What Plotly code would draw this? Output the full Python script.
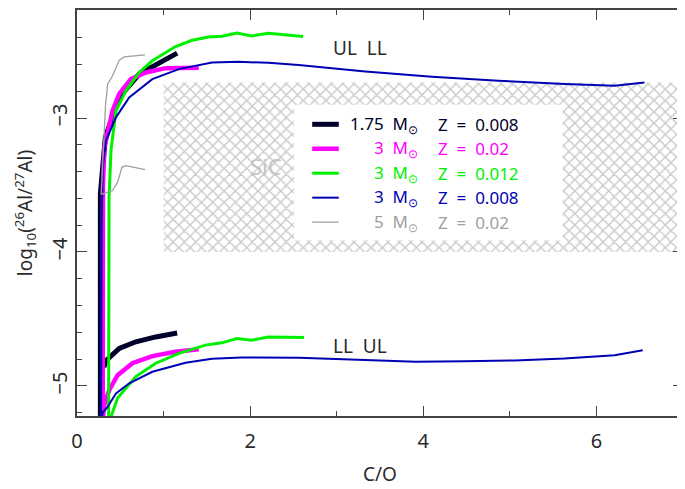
import plotly.graph_objects as go

# ---------------- data ----------------
black_up_x = [0.27, 0.27, 0.327, 0.488, 0.718, 0.947, 1.157]
black_up_y = [-5.3, -3.566, -3.144, -2.847, -2.672, -2.586, -2.516]
black_lo_x = [0.31, 0.335, 0.488, 0.68, 0.909, 1.157]
black_lo_y = [-4.86, -4.81, -4.72, -4.67, -4.634, -4.604]

mag_up_x = [0.297, 0.300, 0.316, 0.411, 0.488, 0.622, 0.794, 1.024, 1.406]
mag_up_y = [-5.3, -3.5, -3.22, -2.946, -2.82, -2.71, -2.66, -2.628, -2.625]
mag_lo_x = [0.297, 0.31, 0.373, 0.469, 0.64, 0.87, 1.139, 1.406]
mag_lo_y = [-5.3, -5.15, -5.03, -4.92, -4.83, -4.777, -4.745, -4.725]

grn_up_x = [0.365, 0.37, 0.393, 0.45, 0.565, 0.718, 0.87, 1.139, 1.33, 1.521,
            1.674, 1.846, 2.018, 2.21, 2.612]
grn_up_y = [-5.3, -3.6, -3.24, -2.946, -2.797, -2.66, -2.573, -2.467, -2.42, -2.395,
            -2.39, -2.366, -2.387, -2.367, -2.392]
grn_lo_x = [0.385, 0.393, 0.469, 0.68, 0.909, 1.177, 1.483, 1.674, 1.846, 2.018,
            2.21, 2.623]
grn_lo_y = [-5.3, -5.23, -5.09, -4.93, -4.83, -4.757, -4.695, -4.678, -4.646, -4.658,
            -4.634, -4.638]

blu_up_x = [0.278, 0.285, 0.297, 0.335, 0.45, 0.603, 0.87, 1.177, 1.559, 1.866,
            2.21, 2.56, 3.33, 4.10, 4.867, 5.634, 6.21, 6.555]
blu_up_y = [-5.3, -3.8, -3.368, -3.169, -2.995, -2.847, -2.71, -2.635, -2.586, -2.581,
            -2.588, -2.605, -2.653, -2.692, -2.722, -2.747, -2.76, -2.735]
blu_lo_x = [0.278, 0.297, 0.354, 0.45, 0.603, 0.87, 1.254, 1.559, 1.904, 2.21,
            2.56, 3.33, 3.91, 4.48, 5.06, 5.63, 6.21, 6.535]
blu_lo_y = [-5.3, -5.20, -5.155, -5.055, -4.98, -4.894, -4.827, -4.797, -4.787, -4.787,
            -4.79, -4.807, -4.82, -4.815, -4.81, -4.795, -4.77, -4.733]

gry_up_x = [0.28, 0.295, 0.308, 0.33, 0.354, 0.411, 0.488, 0.545, 0.786]
gry_up_y = [-3.57, -3.35, -3.12, -2.9, -2.747, -2.685, -2.568, -2.544, -2.529]
gry_lo_x = [0.28, 0.327, 0.411, 0.469, 0.519, 0.565, 0.786]
gry_lo_y = [-3.57, -3.561, -3.541, -3.479, -3.368, -3.355, -3.385]

sic_x_range = [1.0, 7.0]
sic_y_range = [-4.0, -2.735]

model_masses = ["1.75", "3", "3", "3", "5"]
model_Z = ["0.008", "0.02", "0.012", "0.008", "0.02"]
model_colors = ["#00002a", "#ff00ff", "#00f000", "#0000b4", "#a0a0a0"]
model_widths = [5, 4.5, 3, 2, 1.3]

x_tick_vals = [0, 2, 4, 6]
y_tick_vals = [-5, -4, -3]

curves = [
    (black_up_x, black_up_y, black_lo_x, black_lo_y),
    (mag_up_x, mag_up_y, mag_lo_x, mag_lo_y),
    (grn_up_x, grn_up_y, grn_lo_x, grn_lo_y),
    (blu_up_x, blu_up_y, blu_lo_x, blu_lo_y),
    (gry_up_x, gry_up_y, gry_lo_x, gry_lo_y),
]

FONT = "Noto Sans"
TXT = "#2a2a2a"
NB = "\u00a0"

fig = go.Figure()

# SiC hatched region
fig.add_trace(go.Scatter(
    x=[sic_x_range[0], sic_x_range[1], sic_x_range[1], sic_x_range[0], sic_x_range[0]],
    y=[sic_y_range[0], sic_y_range[0], sic_y_range[1], sic_y_range[1], sic_y_range[0]],
    mode="lines", fill="toself", line=dict(width=0, color="rgba(0,0,0,0)"),
    fillcolor="rgba(255,255,255,0)",
    fillpattern=dict(shape="x", fgcolor="#959595", bgcolor="white", size=8, solidity=0.33),
    hoverinfo="skip", showlegend=False))

for (ux, uy, lx, ly), col, w in zip(curves, model_colors, model_widths):
    for xs, ys in ((ux, uy), (lx, ly)):
        fig.add_trace(go.Scatter(x=xs, y=ys, mode="lines",
                                 line=dict(color=col, width=w),
                                 showlegend=False, hoverinfo="skip"))

# ---- legend box (white) ----
fig.add_shape(type="rect", xref="x", yref="y", x0=2.505, x1=5.61, y0=-3.914, y1=-2.901,
              fillcolor="white", line=dict(width=0), layer="above")

row_y0 = -3.047
row_step = 0.1825
for i, (m, z, col, w) in enumerate(zip(model_masses, model_Z, model_colors, model_widths)):
    yy = row_y0 - i * row_step
    fig.add_shape(type="line", xref="x", yref="y", x0=2.717, x1=3.024, y0=yy, y1=yy,
                  line=dict(color=col, width=w), layer="above")
    fig.add_annotation(x=3.96, y=yy, xref="x", yref="y", xanchor="right", yanchor="middle",
                       text=f"{m}{NB}{NB}M<sub>⊙</sub>", showarrow=False,
                       font=dict(family=FONT, size=17, color=col))
    fig.add_annotation(x=4.15, y=yy, xref="x", yref="y", xanchor="left", yanchor="middle",
                       text=f"Z{NB}{NB}={NB}{NB}{z}", showarrow=False,
                       font=dict(family=FONT, size=17, color=col))

# labels
fig.add_annotation(x=3.266, y=-2.48, xref="x", yref="y", text=f"UL{NB}{NB}LL", showarrow=False,
                   font=dict(family=FONT, size=19, color=TXT))
fig.add_annotation(x=3.266, y=-4.70, xref="x", yref="y", text=f"LL{NB}{NB}UL", showarrow=False,
                   font=dict(family=FONT, size=19, color=TXT))
fig.add_annotation(x=2.18, y=-3.355, xref="x", yref="y", text="SiC", showarrow=False,
                   font=dict(family=FONT, size=22, color="#c4c4c4"))

# axis titles
fig.add_annotation(x=0.5, y=-0.142, xref="paper", yref="paper", text="C/O", showarrow=False,
                   yanchor="middle", font=dict(family=FONT, size=19, color=TXT))
fig.add_annotation(x=-0.0855, y=0.5, xref="paper", yref="paper", textangle=-90,
                   text="log<sub>10</sub>(<sup>26</sup>Al/<sup>27</sup>Al)", showarrow=False,
                   xanchor="center", yanchor="middle",
                   font=dict(family=FONT, size=19, color=TXT))

axis_common = dict(showgrid=False, zeroline=False, showline=True, linecolor="#444",
                   linewidth=1.5, mirror="allticks", ticks="inside", ticklen=10,
                   tickwidth=1.3, tickcolor="#444",
                   tickfont=dict(family=FONT, size=20, color=TXT))

fig.update_xaxes(range=[sic_x_range[0] - 1.0, 7.0], tickvals=x_tick_vals,
                 ticktext=[str(v) for v in x_tick_vals],
                 minor=dict(ticks="inside", ticklen=5, dtick=1, tickcolor="#444", tickwidth=1.2),
                 ticklabelstandoff=6, **axis_common)
fig.update_yaxes(range=[-5.224, -2.194], tickvals=y_tick_vals,
                 ticktext=["\u2212" + str(abs(v)) for v in y_tick_vals], tickangle=-90,
                 minor=dict(ticks="inside", ticklen=5, dtick=0.2, tickcolor="#444", tickwidth=1.2),
                 ticklabelstandoff=0, **axis_common)

# page body has an 8px margin: size the figure so the frame lands where the reference has it
fig.update_layout(width=677, height=481, margin=dict(l=69, r=0, t=1, b=73),
                  plot_bgcolor="white", paper_bgcolor="white", showlegend=False)

fig.write_html("out.html")
